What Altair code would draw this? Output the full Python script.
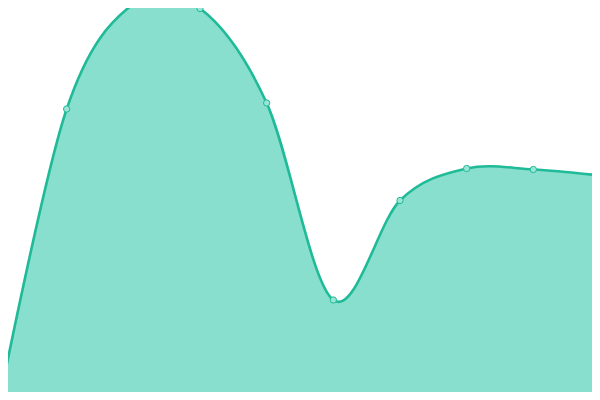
import altair as alt
import pandas as pd

idx = [0, 1, 2, 3, 4, 5, 6, 7, 8, 9]
values = [2, 291, 396, 391.5, 297, 100, 199.5, 231.5, 230.5, 224.5]

df = pd.DataFrame({"i": idx, "v": values})

LINE = "#1fba97"
FILL = "#88dfce"

x = alt.X("i:Q", axis=None, scale=alt.Scale(domain=[0.12, 8.88], nice=False, zero=False))
y = alt.Y("v:Q", axis=None, scale=alt.Scale(domain=[8, 392], nice=False, zero=False))

base = alt.Chart(df)
area = base.mark_area(interpolate="cardinal", color=FILL, opacity=1, clip=True).encode(
    x=x, y=y, y2=alt.datum(0))
line = base.mark_line(interpolate="cardinal", color=LINE, strokeWidth=2.6, clip=True).encode(x=x, y=y)
pts = base.mark_point(shape="circle", filled=True, fill="#9be5d6", stroke=LINE, strokeWidth=1,
                      size=40, opacity=1, clip=True).encode(x=x, y=y)

chart = (area + line + pts).properties(width=584, height=384, padding=0, autosize="none").configure_view(stroke=None)
chart.save("out.html", embed_options={"renderer": "svg", "actions": False})
